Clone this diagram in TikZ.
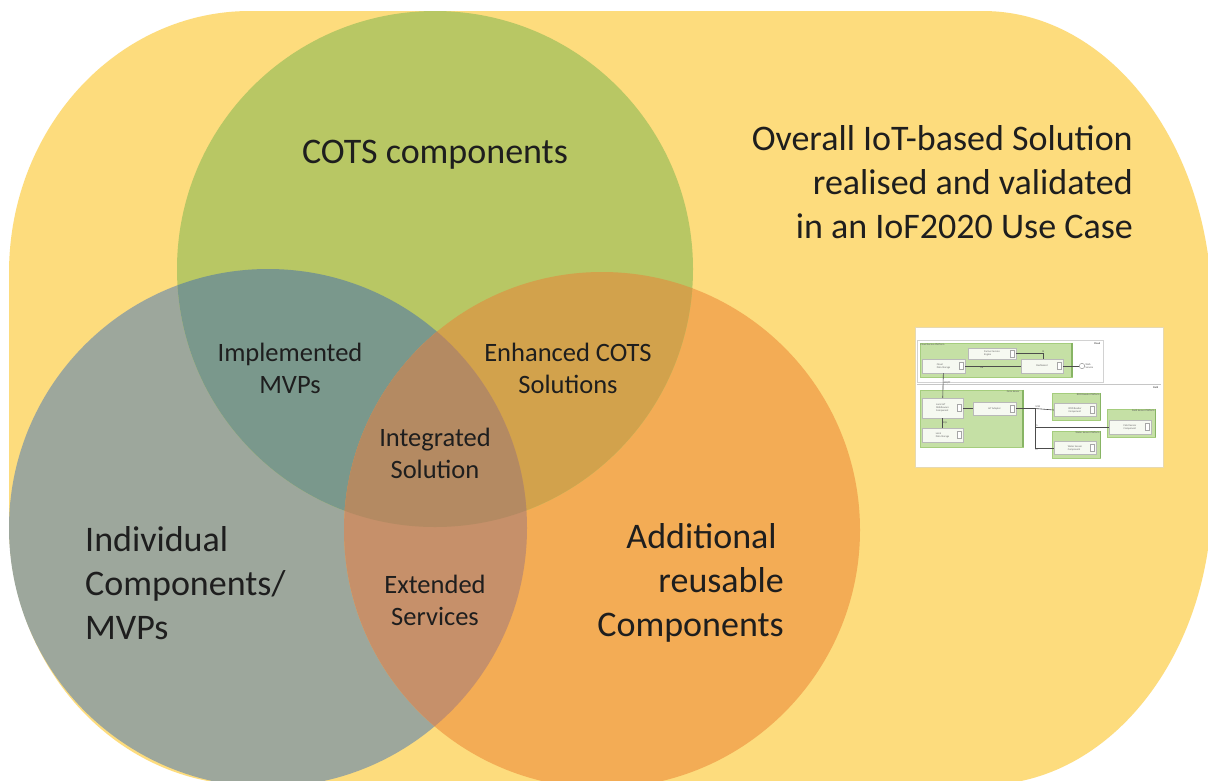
\documentclass[tikz,border=0pt]{standalone}
\usepackage{fontspec}
\usetikzlibrary{calc}
\setmainfont{Carlito}
\definecolor{cyellow}{HTML}{FDDC7D}
\definecolor{cgreen}{HTML}{B8C764}
\definecolor{cgray}{HTML}{9DA79C}
\definecolor{corange}{HTML}{F3AC55}
\definecolor{cgg}{HTML}{7A988C}
\definecolor{cgo}{HTML}{D2A24C}
\definecolor{cgro}{HTML}{C6906A}
\definecolor{call}{HTML}{B48A62}
\definecolor{ctext}{HTML}{1E1E1E}
\definecolor{tfill}{RGB}{197,224,165}
\definecolor{tedge}{RGB}{165,205,125}
\definecolor{tdark}{RGB}{135,180,100}
\definecolor{cfill}{RGB}{246,249,241}
\tikzset{
  big/.style={font=\fontsize{36}{44}\selectfont, text=ctext, inner sep=0pt},
  small/.style={font=\fontsize{26.5}{32}\selectfont, text=ctext, inner sep=0pt, align=center},
  plat/.style={draw=tedge, fill=tfill, line width=0.5pt, inner sep=0pt},
  comp/.style={draw=gray!55, fill=cfill, line width=0.4pt, inner sep=0.6pt,
    font=\fontsize{2.6}{3}\selectfont, text=gray!80!black, align=left},
  tiny/.style={font=\fontsize{2.6}{3}\selectfont, text=gray!70!black, inner sep=0.5pt, align=left},
  conn/.style={draw=gray!60!black, line width=0.6pt},
  icon/.style={draw=gray!70, fill=white, line width=0.3pt},
}
\begin{document}
\begin{tikzpicture}[x=1pt,y=-1pt]
\clip (0,0) rectangle (1208,780);
\fill[white] (0,0) rectangle (1208,780);
% overall solution shape
\fill[cyellow] (250,11) -- (983,11)
  arc[start angle=-90,end angle=0,x radius=229,y radius=300]
  -- (1212,495)
  arc[start angle=0,end angle=90,x radius=229,y radius=290]
  -- (250,785)
  arc[start angle=90,end angle=180,x radius=241,y radius=262]
  -- (9,273)
  arc[start angle=180,end angle=270,x radius=241,y radius=262]
  -- cycle;
% circles
\coordinate (cG) at (435,269);
\coordinate (cI) at (268,528);
\coordinate (cO) at (602,530);
\fill[cgray] (cI) circle[radius=259];
\fill[corange] (cO) circle[radius=258];
\fill[cgreen] (cG) circle[radius=258];
\begin{scope}
  \clip (cG) circle[radius=258];
  \fill[cgg] (cI) circle[radius=259];
  \fill[cgo] (cO) circle[radius=258];
\end{scope}
\begin{scope}
  \clip (cI) circle[radius=259];
  \fill[cgro] (cO) circle[radius=258];
  \clip (cG) circle[radius=258];
  \fill[call] (cO) circle[radius=258];
\end{scope}
% labels
\node[big] (cots) at (435,155) {COTS components};
\node[big, align=right, anchor=east] (overall) at (1133,182) {Overall IoT-based Solution\\realised and validated\\in an IoF2020 Use Case};
\node[big, align=left, anchor=west] (indiv) at (85,583) {Individual\\Components/\\MVPs};
\node[big, align=right, anchor=east] (addit) at (784,583) {Additional\hspace*{7pt}\\reusable\\Components};
\node[small] (impl) at (290,368) {Implemented\\MVPs};
\node[small] (enh) at (568,368) {Enhanced COTS\\Solutions};
\node[small] (integ) at (435,453) {Integrated\\Solution};
\node[small] (ext) at (435,600) {Extended\\Services};
% thumbnail architecture diagram
\node[draw=gray!30!cyellow!60!white, fill=white, line width=1pt, minimum width=248pt, minimum height=140pt, inner sep=0pt] (thumb) at (1039,397) {};
\draw[gray!35, line width=0.5pt] (917,340) rectangle (1103,382);
\draw[gray!45, line width=0.5pt] (917,384) -- (1161,384);
\node[tiny, font=\bfseries\fontsize{2.6}{3}\selectfont, anchor=north east] (lcloud) at (1101,342) {Cloud};
\node[tiny, font=\bfseries\fontsize{2.6}{3}\selectfont, anchor=north east] (lfield) at (1159,386) {Field};
% cloud platform
\node[plat, minimum width=152pt, minimum height=34pt] (csp) at (996,360) {};
\draw[tdark, line width=1.6pt] (csp.north east) -- (csp.south east);
\node[tiny, anchor=north west] (lcsp) at (csp.north west) {Cloud Service Platform};
\node[comp, minimum width=48pt, minimum height=11pt] (fse) at (992,353.5) {Farmer Service\\Engine};
\node[comp, minimum width=43pt, minimum height=14pt] (cds) at (943.5,366) {Cloud\\Data Storage};
\node[comp, minimum width=42pt, minimum height=14pt] (dash) at (1042,366) {Dashboard};
\node[circle, draw=gray!80, fill=white, line width=0.5pt, minimum size=5.4pt, inner sep=0pt] (iface) at (1082,366) {};
\node[tiny, anchor=west] (liface) at (iface.east) {Web\\Service};
\draw[conn] (cds) -- node[tiny, below, pos=0.3] {DB} (dash);
\draw[conn] (fse.east) -- ++(27,0) coordinate (fk) -- (fk |- dash.north);
\node[tiny, above] at (fk) {IS};
\draw[conn] (dash) -- (iface);
% field
\node[plat, minimum width=103pt, minimum height=57pt] (fs) at (971.5,418.5) {};
\draw[tdark, line width=1.6pt] (fs.north east) -- (fs.south east);
\node[tiny, anchor=north east] (lfs) at ([xshift=-3pt]fs.north east) {Farm Server};
\node[comp, minimum width=41pt, minimum height=20pt] (lim) at (942.5,408) {Local IoT\\Middleware\\Component};
\node[comp, minimum width=43pt, minimum height=13pt] (iota) at (994.5,408.5) {IoT Adapter};
\node[comp, minimum width=41pt, minimum height=14pt] (lds) at (942.5,435) {Local\\Data Storage};
\draw[conn] (cds) -- node[tiny, right, pos=0.4] {MQTT} (lim);
\draw[conn] (lim) -- (lds);
\node[tiny, right] at ($(lim.south)!0.5!(lds.north)$) {SQL};
\draw[conn] (lim.east |- iota.west) -- (iota.west);
\node[plat, minimum width=48pt, minimum height=27pt] (rfidp) at (1076,406.5) {};
\draw[tdark, line width=1.2pt] (rfidp.north east) -- (rfidp.south east);
\node[tiny, anchor=north east] at (rfidp.north east) {RFID Reader Platform};
\node[comp, minimum width=42pt, minimum height=13pt] (rfidc) at (1075,410) {RFID Reader\\Component};
\node[plat, minimum width=48pt, minimum height=28pt] (fsp) at (1131,423) {};
\draw[tdark, line width=1.2pt] (fsp.north east) -- (fsp.south east);
\node[tiny, anchor=north east] at (fsp.north east) {Field Sensor Platform};
\node[comp, minimum width=42pt, minimum height=14pt] (fsc) at (1130,427) {Field Sensor\\Component};
\node[plat, minimum width=48pt, minimum height=27pt] (wsp) at (1076,444.5) {};
\draw[tdark, line width=1.2pt] (wsp.north east) -- (wsp.south east);
\node[tiny, anchor=north east] at (wsp.north east) {Water Sensor Platform};
\node[comp, minimum width=42pt, minimum height=13pt] (wsc) at (1075,448) {Water Sensor\\Component};
\foreach \n in {fse,cds,dash,lim,iota,lds,rfidc,fsc,wsc}{
  \draw[icon] ([xshift=-6pt,yshift=-3.5pt]\n.east) rectangle ([xshift=-2pt,yshift=3.5pt]\n.east);
}
\coordinate (bus) at (1035,410);
\draw[conn] (iota.east) -- (iota.east -| bus) -- (bus |- wsc.west) -- (wsc.west);
\draw[conn] (iota.east -| bus) -- (rfidc.west);
\draw[conn] (bus |- fsc.west) -- (fsc.west);
\node[tiny, above right] at (iota.east -| bus) {USB};
\node[tiny, above right] at (bus |- fsc.west) {IS};
\node[tiny, below right] at (bus |- wsc.west) {IS};
\end{tikzpicture}
\end{document}
